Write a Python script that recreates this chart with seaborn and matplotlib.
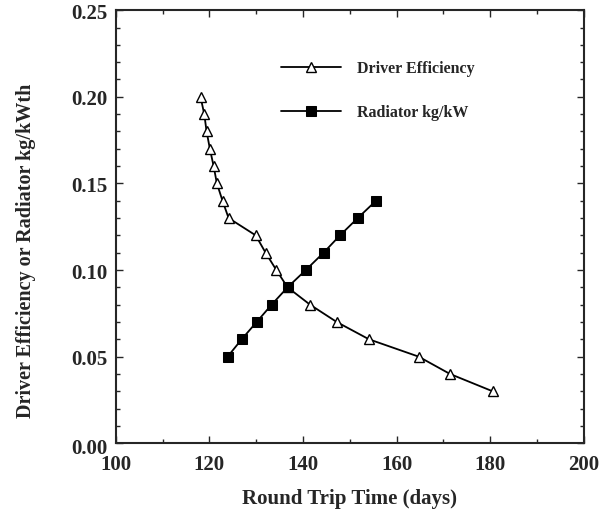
import matplotlib
matplotlib.use("Agg")
from matplotlib import pyplot as plt
from matplotlib.ticker import MultipleLocator
import seaborn as sns
import pandas as pd

driver_days = [118.1, 118.9, 119.4, 120.1, 120.9, 121.6, 122.8, 124.1, 129.9,
               132.0, 134.3, 136.7, 141.5, 147.2, 154.1, 164.7, 171.4, 180.5]
driver_eff = [0.20, 0.19, 0.18, 0.17, 0.16, 0.15, 0.14, 0.13, 0.12,
              0.11, 0.10, 0.09, 0.08, 0.07, 0.06, 0.05, 0.04, 0.03]
radiator_days = [123.9, 126.9, 130.1, 133.3, 136.7, 140.6, 144.4, 147.9, 151.7, 155.6]
radiator_kg = [0.05, 0.06, 0.07, 0.08, 0.09, 0.10, 0.11, 0.12, 0.13, 0.14]


def ylab(v, pos):
    # 0.00 is drawn separately, a bit lower, like in the original
    if abs(v) < 1e-9:
        return ''
    return f"{v:.2f}"


def make_plot():
    sns.set_style("ticks")
    plt.rcParams['font.family'] = ['Liberation Serif', 'DejaVu Serif']
    plt.rcParams['font.weight'] = 'bold'

    fig = plt.figure(figsize=(6, 5.1), dpi=100)
    ax = fig.add_axes([0.193, 0.129, 0.780, 0.849])

    driver = pd.DataFrame({'days': driver_days, 'value': driver_eff})
    radiator = pd.DataFrame({'days': radiator_days, 'value': radiator_kg})

    sns.lineplot(data=driver, x='days', y='value', ax=ax, color='black', lw=1.3,
                 marker='^', markersize=7.5, markerfacecolor='white',
                 markeredgecolor='black', markeredgewidth=1, sort=False,
                 label='Driver Efficiency')
    sns.lineplot(data=radiator, x='days', y='value', ax=ax, color='black', lw=1.3,
                 marker='s', markersize=7, markerfacecolor='black',
                 markeredgecolor='black', sort=False,
                 label='Radiator kg/kW')

    ax.set_xlim(100, 200)
    ax.set_ylim(0, 0.25)
    ax.xaxis.set_major_locator(MultipleLocator(20))
    ax.xaxis.set_minor_locator(MultipleLocator(10))
    ax.yaxis.set_major_locator(MultipleLocator(0.05))
    ax.yaxis.set_minor_locator(MultipleLocator(0.01))
    ax.yaxis.set_major_formatter(ylab)
    ax.tick_params(which='both', direction='in', top=True, right=True,
                   labelsize=15, width=1)
    ax.tick_params(axis='x', which='major', pad=8)
    ax.tick_params(axis='y', which='major', pad=6)
    ax.tick_params(which='major', length=5)
    ax.tick_params(which='minor', length=3)
    for s in ax.spines.values():
        s.set_linewidth(1.5)

    ax.annotate('0.00', xy=(0, 0), xycoords='axes fraction', xytext=(-8, -5),
                textcoords='offset pixels', ha='right', va='center', fontsize=15,
                fontweight='bold')

    ax.set_xlabel('Round Trip Time (days)', fontsize=15, fontweight='bold', labelpad=10)
    ax.set_ylabel('Driver Efficiency or Radiator kg/kWth', fontsize=14.5,
                  fontweight='bold')
    ax.yaxis.set_label_coords(-0.171, 0.446)

    ax.legend(loc='upper left', bbox_to_anchor=(0.353, 0.884), frameon=False,
              borderpad=0, borderaxespad=0, handlelength=3.75, handletextpad=1.0,
              labelspacing=1.75, fontsize=11.5)


if __name__ == '__main__':
    make_plot()
    plt.savefig('out.png', dpi=100)
    plt.close()
